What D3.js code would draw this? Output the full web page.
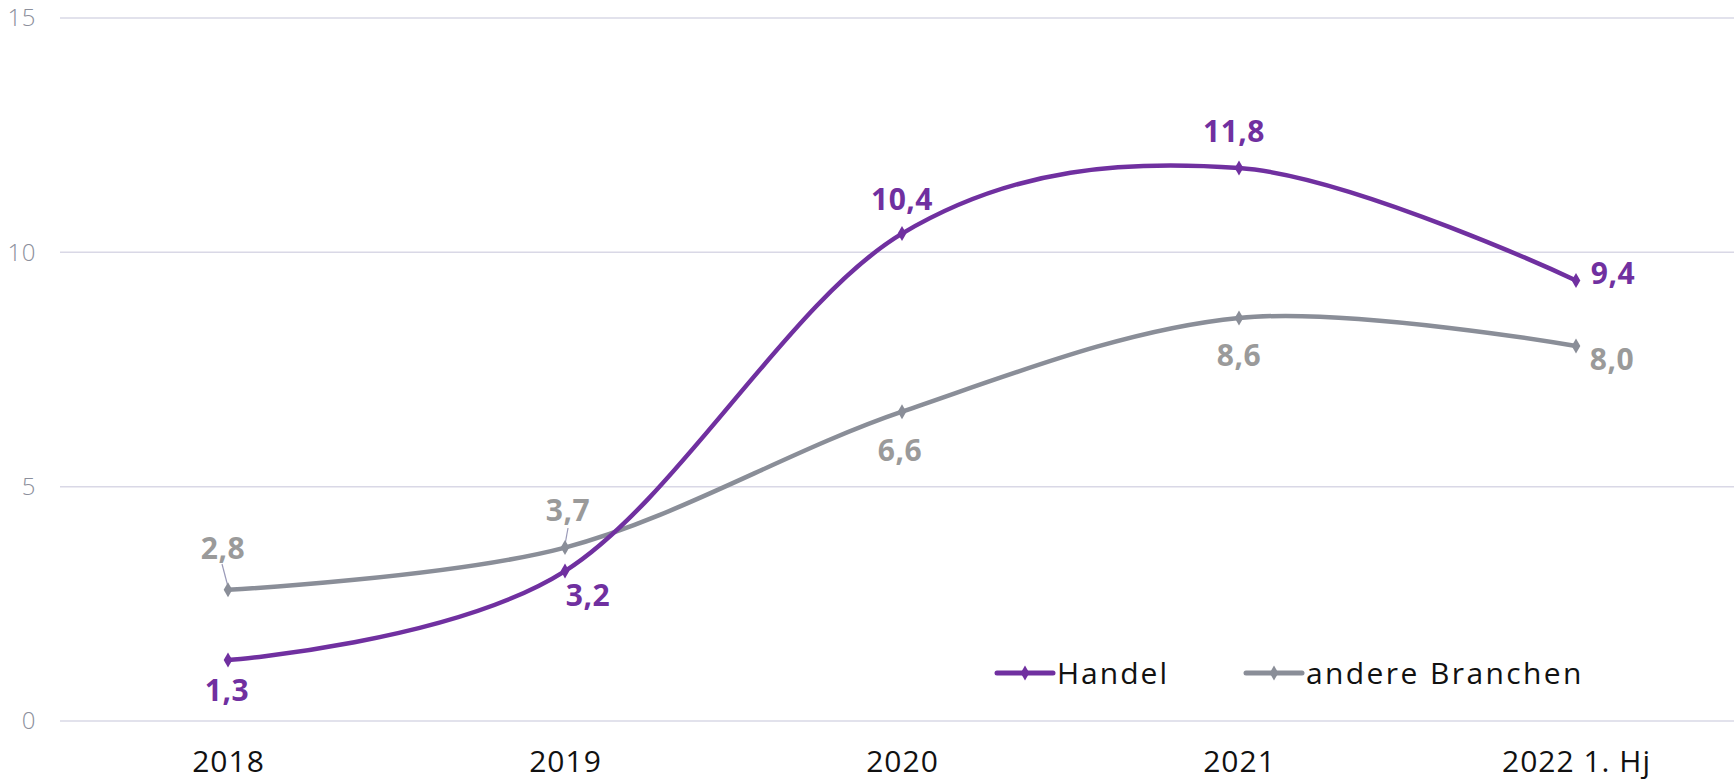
<!DOCTYPE html>
<html>
<head>
<meta charset="utf-8">
<script src="https://cdn.jsdelivr.net/npm/d3@7"></script>
<style>
  html, body { margin: 0; padding: 0; background: #ffffff; }
  svg { display: block; }
</style>
</head>
<body>
<svg id="chart" width="1734" height="781"></svg>
<script>
const categories = ["2018", "2019", "2020", "2021", "2022 1. Hj"];
const handel = [1.3, 3.2, 10.4, 11.8, 9.4];
const andere = [2.8, 3.7, 6.6, 8.6, 8.0];
const seriesNames = ["Handel", "andere Branchen"];
const yTicks = [0, 5, 10, 15];

const W = 1734, H = 781;
const svg = d3.select("#chart");
const FONT = "'Open Sans', 'DejaVu Sans', sans-serif";

const x = d3.scalePoint().domain(categories).range([228, 1576]);
const y = d3.scaleLinear().domain([0, 15]).range([721, 18]);

const purple = "#7030a0";
const grey = "#8a8e98";
const greyLabel = "#9a9a9a";

// y tick labels
const yAxis = d3.axisLeft(y).tickValues(yTicks).tickSize(0).tickPadding(24).tickFormat(d3.format("d"));
const gy = svg.append("g").attr("transform", "translate(60,0)").call(yAxis);
gy.select(".domain").remove();
gy.selectAll("text").attr("font-family", FONT).attr("font-weight", 300)
  .attr("font-size", 24).attr("letter-spacing", 0.5).attr("fill", "#8c8f9c");
// gridlines
svg.append("g").selectAll("line").data(yTicks).join("line")
  .attr("x1", 60).attr("x2", W)
  .attr("y1", d => y(d)).attr("y2", d => y(d))
  .attr("stroke", "#d9d8e6").attr("stroke-width", 1.5);

// x axis labels
const xAxis = d3.axisBottom(x).tickSize(0).tickPadding(0);
const gx = svg.append("g").attr("transform", "translate(0,752)").call(xAxis);
gx.select(".domain").remove();
gx.selectAll("text").attr("font-family", FONT).attr("font-weight", 400)
  .attr("font-size", 30).attr("letter-spacing", 1).attr("fill", "#111").attr("dy", "0.32em").attr("y", 10);

const line = d3.line().x((d, i) => x(categories[i])).y(d => y(d)).curve(d3.curveCardinal.tension(0));

const diamond = d3.symbol().type(d3.symbolDiamond).size(65);

function drawSeries(vals, color) {
  svg.append("path").datum(vals).attr("d", line)
    .attr("fill", "none").attr("stroke", color).attr("stroke-width", 4.5)
    .attr("stroke-linecap", "round");
  svg.append("g").selectAll("path").data(vals).join("path")
    .attr("d", diamond)
    .attr("transform", (d, i) => `translate(${x(categories[i])},${y(d)})`)
    .attr("fill", color);
}

// leader lines for andere 2018 and 2019
const leaders = [[0, 222, 564], [1, 568, 528]];
svg.append("g").selectAll("line").data(leaders).join("line")
  .attr("x1", d => d[1]).attr("y1", d => d[2])
  .attr("x2", d => x(categories[d[0]])).attr("y2", d => y(andere[d[0]]) - 3)
  .attr("stroke", "#9a9ab8").attr("stroke-width", 1.2);

drawSeries(andere, grey);
drawSeries(handel, purple);

// data label offsets (dx, dy of label centre relative to point)
const handelOff = [[-1, 30], [23, 24], [0, -34], [-5, -36], [37, -7]];
const andereOff = [[-5, -41], [3, -37], [-2, 39], [0, 38], [36, 13]];
const fmt = v => d3.format(".1f")(v).replace(".", ",");

function drawLabels(vals, offs, color) {
  svg.append("g").selectAll("text").data(vals).join("text")
    .attr("x", (d, i) => x(categories[i]) + offs[i][0])
    .attr("y", (d, i) => y(d) + offs[i][1])
    .attr("text-anchor", "middle").attr("dy", "0.35em")
    .attr("font-family", FONT).attr("font-weight", 700).attr("font-size", 30)
    .attr("letter-spacing", 0.5)
    .attr("fill", color).text(d => fmt(d));
}
drawLabels(handel, handelOff, purple);
drawLabels(andere, andereOff, greyLabel);

// legend
const legendItems = [
  { name: seriesNames[0], color: purple, x0: 997, ls: 2 },
  { name: seriesNames[1], color: grey, x0: 1246, ls: 2.4 }
];
const lg = svg.append("g").selectAll("g").data(legendItems).join("g")
  .attr("transform", d => `translate(${d.x0},673)`);
lg.append("line").attr("x1", 0).attr("x2", 56).attr("y1", 0).attr("y2", 0)
  .attr("stroke", d => d.color).attr("stroke-width", 5).attr("stroke-linecap", "round");
lg.append("path").attr("d", diamond).attr("transform", "translate(28,0)").attr("fill", d => d.color);
lg.append("text").attr("x", 60).attr("y", 0).attr("dy", "0.36em")
  .attr("font-family", FONT).attr("font-size", 30).attr("letter-spacing", d => d.ls).attr("fill", "#111")
  .text(d => d.name);
</script>
</body>
</html>
